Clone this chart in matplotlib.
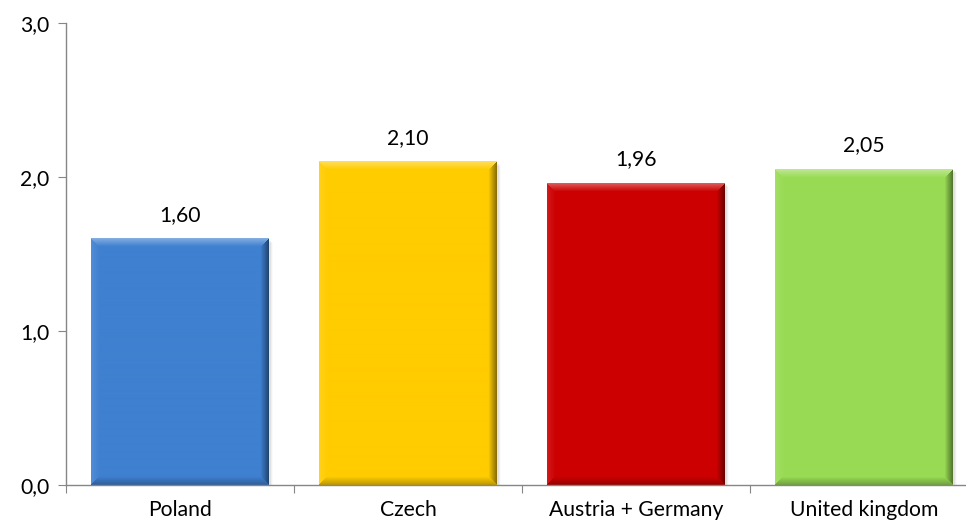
import numpy as np
import matplotlib
matplotlib.use("Agg")
import matplotlib.pyplot as plt
from matplotlib.colors import to_rgb

categories = ["Poland", "Czech", "Austria + Germany", "United kingdom"]
values = [1.60, 2.10, 1.96, 2.05]
colors = ["#3f80d0", "#ffcc00", "#cc0000", "#99db55"]
value_labels = ["1,60", "2,10", "1,96", "2,05"]
ytick_values = [0.0, 1.0, 2.0, 3.0]
ytick_labels = ["0,0", "1,0", "2,0", "3,0"]

plt.rcParams["font.family"] = ["Lato", "DejaVu Sans"]
FS = 15.2

fig = plt.figure(figsize=(9.66, 5.26), dpi=100)
ax = fig.add_axes([0.0683, 0.078, 0.944, 0.878])

bar_w = 0.78
x = np.arange(len(categories))
ax.set_xlim(-0.5, len(categories) - 0.5)
ax.set_ylim(0, 3.0)


def bevel_image(color, w_px, h_px, bevel=8):
    base = np.array(to_rgb(color))
    img = np.tile(base, (h_px, w_px, 1))
    yy, xx = np.mgrid[0:h_px, 0:w_px]
    d_top = yy
    d_bot = h_px - 1 - yy
    d_left = xx
    d_right = w_px - 1 - xx
    light = np.clip(1 - d_top / bevel, 0, 1)
    dark_r = np.clip(1 - d_right / bevel, 0, 1)
    dark_b = np.clip(1 - d_bot / bevel, 0, 1)
    light_l = np.clip(1 - d_left / bevel, 0, 1) * 0.4
    # which edge dominates in the corners
    edges = np.stack([d_top, d_bot, d_left, d_right])
    nearest = np.argmin(edges, axis=0)
    out = img.copy()
    m = nearest == 0
    out[m] = img[m] + (1 - img[m]) * (0.35 * light[m])[:, None]
    m = nearest == 1
    out[m] = img[m] * (1 - 0.25 * dark_b[m])[:, None]
    m = nearest == 2
    out[m] = img[m] + (1 - img[m]) * (0.25 * light_l[m])[:, None]
    m = nearest == 3
    out[m] = img[m] * (1 - 0.45 * dark_r[m])[:, None]
    return np.clip(out, 0, 1)


# pixel scale for bevel sizing
fig.canvas.draw()
px_per_x = ax.transData.transform((1, 0))[0] - ax.transData.transform((0, 0))[0]
px_per_y = ax.transData.transform((0, 1))[1] - ax.transData.transform((0, 0))[1]

for xi, v, c, lab in zip(x, values, colors, value_labels):
    left = xi - bar_w / 2
    # soft shadow
    for k, a in enumerate([0.06, 0.04, 0.02]):
        dx = (k + 2) / px_per_x
        ax.add_patch(plt.Rectangle((left + dx, 0), bar_w, v - dx * px_per_x / px_per_y,
                                   facecolor="black", alpha=a, edgecolor="none", zorder=1))
    w_px = int(round(bar_w * px_per_x))
    h_px = int(round(v * px_per_y))
    img = bevel_image(c, w_px, h_px)
    ax.imshow(img, extent=(left, left + bar_w, 0, v), origin="upper",
              aspect="auto", zorder=2, interpolation="bilinear")
    ax.text(xi, v + 0.09, lab, ha="center", va="bottom", fontsize=FS, color="black")

ax.set_xlim(-0.5, len(categories) - 0.5)
ax.set_ylim(0, 3.0)

# spines and ticks
for s in ["top", "right"]:
    ax.spines[s].set_visible(False)
ax.spines["left"].set_color("#868686")
ax.spines["bottom"].set_color("#868686")
ax.spines["left"].set_linewidth(1.0)
ax.spines["bottom"].set_linewidth(1.0)
ax.spines["bottom"].set_zorder(5)

ax.set_yticks(ytick_values)
ax.set_yticklabels(ytick_labels, fontsize=FS)
ax.tick_params(axis="y", direction="out", length=6, color="#868686", pad=6)

ax.set_xticks(np.arange(len(categories) + 1) - 0.5)
ax.set_xticklabels([])
ax.tick_params(axis="x", which="major", direction="out", length=6, color="#868686")
ax.set_xticks(x, minor=True)
ax.set_xticklabels(categories, minor=True, fontsize=FS)
ax.tick_params(axis="x", which="minor", length=0, pad=11)

fig.savefig("out.png", dpi=100)
